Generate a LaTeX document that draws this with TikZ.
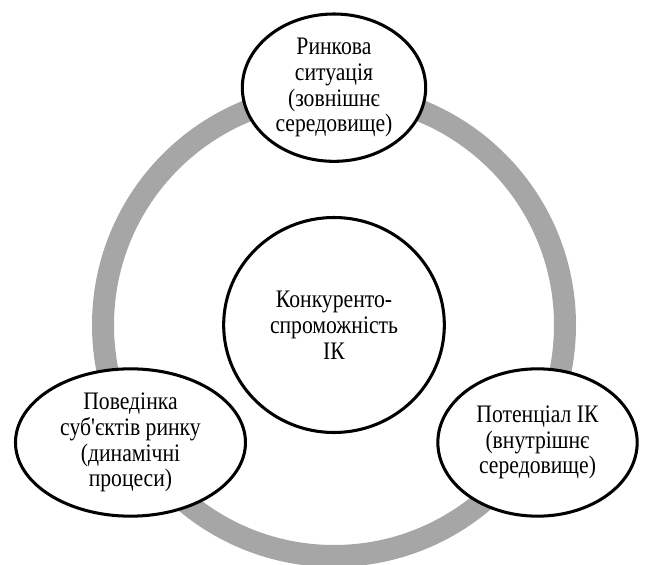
\documentclass[tikz,border=0pt]{standalone}
\usepackage{fontspec}
\setmainfont{Liberation Serif}[Ligatures=TeXOff, FakeStretch=0.86]
\usetikzlibrary{shapes.geometric}
\definecolor{ringGray}{HTML}{A6A6A6}

\begin{document}
\begin{tikzpicture}[
  every node/.style={font=\fontsize{21.5}{22}\selectfont, align=center},
  core/.style={
    ellipse,
    draw=black,
    fill=white,
    line width=2.6pt,
    minimum width=6.62cm,
    minimum height=6.45cm,
    inner sep=0pt
  },
  factor/.style={
    ellipse,
    draw=black,
    fill=white,
    line width=2.6pt,
    minimum height=4.42cm,
    inner sep=0pt
  },
  ringline/.style={draw=ringGray, line width=0.66cm}
]

\useasboundingbox (-10.02,-7.17) rectangle (9.39,9.75);

\node[core] (core) at (0,0) {Конкуренто-\\спроможність\\ІК};

\draw[ringline] (core.center) circle (6.93);

\node[factor, minimum width=5.5cm] (market) at (90:7.12)
{Ринкова\\ситуація\\(зовнішнє\\середовище)};
\node[factor, minimum width=6.9cm] (actors) at (210:7.05)
{Поведінка\\суб'єктів ринку\\(динамічні\\процеси)};
\node[factor, minimum width=5.98cm] (potential) at (330:7.05)
{Потенціал ІК\\(внутрішнє\\середовище)};

\end{tikzpicture}
\end{document}
